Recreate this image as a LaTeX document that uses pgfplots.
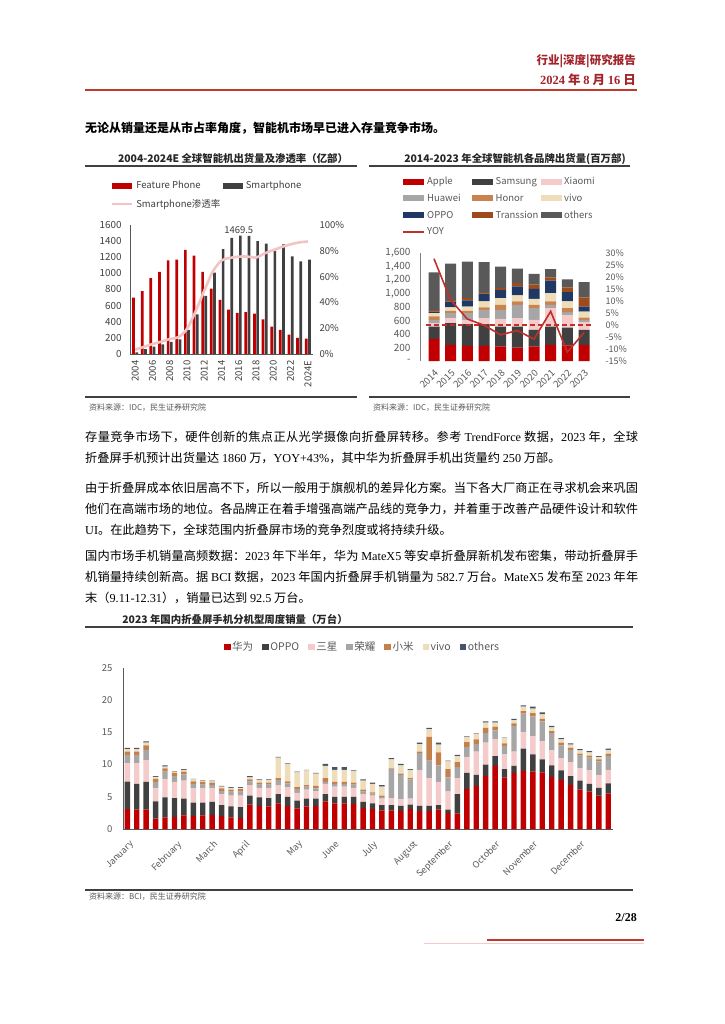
\documentclass[border=0pt]{standalone}
\usepackage{fontspec}
\setmainfont{Noto Sans CJK SC}
\newfontfamily\latfont{Liberation Serif}
\usepackage{pgfplots}
\usepackage{pgfplotstable}
\pgfplotsset{compat=1.18}

\XeTeXlinebreaklocale "zh"
\XeTeXlinebreakskip=0pt plus 1.5pt minus 0.3pt

\newcommand\fsz[1]{\fontsize{#1}{#1}\selectfont}
\newcommand\lt[1]{{\latfont #1}}

\definecolor{hdr}{HTML}{A3232B}
\definecolor{hrule}{HTML}{C0392B}
\definecolor{ttl}{HTML}{262626}
\definecolor{crule}{HTML}{404040}
\definecolor{src}{HTML}{595959}
\definecolor{tick1}{HTML}{404040}
\definecolor{tick2}{HTML}{595959}
\definecolor{axis1}{HTML}{595959}
\definecolor{axis2}{HTML}{808080}
\definecolor{cRed}{HTML}{C00000}
\definecolor{cDark}{HTML}{404040}
\definecolor{cPen}{HTML}{F2C4C4}
\definecolor{cPink}{HTML}{F4CACA}
\definecolor{cGray}{HTML}{A6A6A6}
\definecolor{cHonor}{HTML}{C8834F}
\definecolor{cVivo}{HTML}{EEDDB8}
\definecolor{cOppo}{HTML}{203864}
\definecolor{cTrans}{HTML}{9E4B1C}
\definecolor{cOth}{HTML}{595959}
\definecolor{cOth3}{HTML}{44546A}
\definecolor{cXm}{HTML}{C5804A}
\definecolor{cYoy}{HTML}{C0302A}

\pgfplotsset{
  pg/.style={scale only axis, anchor=south west,
    /pgf/number format/assume math mode=true,
    /pgf/number format/1000 sep={},
    major tick length=0pt, clip=false},
}

% 2004-2024E shipments (million units) and smartphone share (%)
\pgfplotstableread{
year fp sp pen
2004 700 20 3.4
2005 780 60 5.5
2006 940 90 7.7
2007 1020 120 9.5
2008 1160 150 11.6
2009 1170 180 13.0
2010 1290 300 19.5
2011 1220 490 33.0
2012 1020 720 49.0
2013 810 1010 64.0
2014 670 1300 72.5
2015 550 1440 74.5
2016 510 1469.5 75.5
2017 520 1465 75.5
2018 500 1400 74.8
2019 430 1370 78.0
2020 340 1280 80.5
2021 300 1360 83.0
2022 240 1210 85.0
2023 200 1150 86.5
2024 190 1170 87.2
}\tabA

% brands, cumulative tops (million units), yoy in %
\pgfplotstableread{
year a s x h ho v o t ot yoy
2014 327 510 560 610 660 708 733 758 1313 27.6
2015 238 560 634 708 743 793 880 905 1442 10.4
2016 223 545 609 708 743 807 900 930 1473 2.5
2017 225 545 634 758 793 882 1000 1020 1465 -0.1
2018 215 510 624 758 832 931 1050 1080 1400 -4.1
2019 200 510 634 832 882 971 1105 1154 1370 -2.3
2020 215 460 609 783 832 921 1070 1130 1290 -5.9
2021 240 510 783 832 882 1006 1189 1238 1360 5.7
2022 230 495 684 723 783 882 1020 1090 1210 -11.3
2023 240 460 575 609 644 733 807 941 1170 -3.2
}\tabB

% weekly foldable sales 2023, cumulative tops (10k units)
\pgfplotstableread{
w r d p g o b t
0 3.1 7.35 10.2 11.5 12.0 12.4 12.6
1 3.0 7.0 10.2 11.5 12.0 12.4 12.6
2 3.0 7.3 10.7 12.3 13.0 13.4 13.6
3 1.6 4.3 6.4 7.3 7.8 8.1 8.2
4 1.8 4.9 7.8 8.9 9.4 9.7 9.9
5 1.9 4.8 7.3 8.2 8.7 8.9 9.0
6 2.1 4.7 7.5 8.5 8.9 9.2 9.3
7 2.0 4.1 6.3 7.0 7.4 7.7 7.8
8 2.1 4.1 6.3 6.9 7.3 7.5 7.6
9 2.2 4.2 6.3 6.8 7.2 7.4 7.5
10 2.0 3.7 5.4 5.9 6.3 6.6 6.7
11 1.8 3.5 5.2 5.8 6.1 6.4 6.5
12 1.7 3.4 5.2 5.8 6.2 6.4 6.5
13 3.8 5.2 6.8 7.4 7.7 8.0 8.2
14 3.6 4.9 6.4 6.9 7.2 7.6 7.7
15 3.5 4.8 6.4 6.9 7.2 7.6 7.7
16 4.0 5.4 6.8 7.6 7.9 11.1 11.2
17 3.6 5.0 6.5 7.1 7.4 10.1 10.2
18 3.2 4.4 5.6 6.2 6.5 8.8 8.9
19 3.5 4.7 6.1 6.6 6.8 9.1 9.2
20 3.6 4.7 5.9 6.3 6.7 8.6 8.7
21 4.3 5.4 7.0 7.3 7.9 9.8 10.1
22 4.0 5.0 6.6 7.0 7.3 9.2 9.6
23 4.0 5.0 6.6 7.0 7.3 9.2 9.6
24 3.9 5.0 6.4 6.9 7.2 9.0 9.1
25 3.3 4.2 5.4 5.8 6.1 7.5 7.7
26 3.1 4.0 5.2 5.5 5.7 7.0 7.2
27 2.9 3.7 4.7 5.0 5.2 6.6 6.8
28 2.9 3.7 4.8 9.3 9.4 10.8 11.0
29 2.8 3.6 4.6 8.4 8.6 9.9 10.1
30 3.1 3.8 4.7 7.7 7.9 9.2 9.3
31 2.8 3.6 9.1 11.8 12.0 13.2 13.4
32 2.8 3.6 7.9 10.6 14.3 15.5 15.7
33 3.0 3.7 7.3 9.9 11.9 13.1 13.4
34 2.5 3.0 5.9 8.0 9.3 10.5 10.6
35 2.4 5.4 7.9 9.6 10.4 11.3 11.5
36 6.2 8.7 11.2 12.7 13.5 14.3 14.4
37 6.7 8.4 12.0 13.2 13.9 14.8 14.9
38 8.2 10.0 13.4 14.9 15.7 16.5 16.7
39 9.8 11.3 13.9 15.3 15.9 16.5 16.7
40 8.0 9.3 11.6 12.9 13.3 14.1 14.2
41 8.7 9.8 12.0 16.0 16.4 16.9 17.1
42 9.0 12.5 15.1 17.9 18.3 19.0 19.2
43 8.9 11.6 14.4 17.5 18.0 18.7 19.0
44 8.8 10.8 13.6 16.7 17.1 17.8 18.1
45 8.1 9.9 12.2 14.9 15.2 15.8 16.0
46 7.6 9.1 11.0 13.0 13.4 13.9 14.1
47 6.8 8.2 10.4 12.3 12.6 13.1 13.3
48 6.1 7.5 9.4 11.4 11.7 12.2 12.4
49 5.8 7.0 9.1 11.1 11.4 11.9 12.1
50 5.2 6.4 8.4 10.5 10.8 11.2 11.3
51 5.5 7.1 9.2 11.3 11.7 12.3 12.5
}\tabC

\begin{document}
\begin{tikzpicture}[x=1pt,y=1pt]
\path[use as bounding box, fill=white] (0,0) rectangle (724,-1024);

% header
\node[anchor=east, inner sep=0, text=hdr, font=\fsz{11.5}\bfseries] at (636,-61) {行业|深度|研究报告};
\node[anchor=east, inner sep=0, text=hdr, font=\fsz{12.5}\bfseries] at (636,-80) {{\latfont\bfseries 2024} 年 {\latfont\bfseries 8} 月 {\latfont\bfseries 16} 日};
\draw[hrule, line width=1.4] (85,-90) -- (637,-90);

\node[anchor=west, inner sep=0, font=\fsz{12}\bfseries] at (85,-128) {无论从销量还是从市占率角度，智能机市场早已进入存量竞争市场。};

% chart titles and rules
\node[text=ttl, font=\fsz{10.4}\bfseries, inner sep=0] at (233,-159) {2004-2024E 全球智能机出货量及渗透率（亿部）};
\node[text=ttl, font=\fsz{10.4}\bfseries, inner sep=0] at (515,-159) {2014-2023 年全球智能机各品牌出货量(百万部)};
\draw[crule, line width=1.1] (85,-166) -- (357,-166);
\draw[crule, line width=1.1] (369,-166) -- (630,-166);
\draw[crule, line width=1.1] (85,-397) -- (357,-397);
\draw[crule, line width=1.1] (369,-397) -- (630,-397);
\node[anchor=west, inner sep=0, text=src, font=\fsz{8}] at (89,-408) {资料来源：IDC，民生证券研究院};
\node[anchor=west, inner sep=0, text=src, font=\fsz{8}] at (373,-408) {资料来源：IDC，民生证券研究院};

% body text
\begin{scope}[every node/.style={anchor=base west, inner sep=0, font=\fsz{12.2}}]
\node at (85,-441.5) {\parbox[t]{553pt}{\parfillskip=0pt\relax 存量竞争市场下，硬件创新的焦点正从光学摄像向折叠屏转移。参考 \lt{TrendForce} 数据，\lt{2023} 年，全球}};
\node at (85,-462.5) {折叠屏手机预计出货量达 \lt{1860} 万，\lt{YOY+43\%}，其中华为折叠屏手机出货量约 \lt{250} 万部。};
\node at (85,-492.5) {\parbox[t]{553pt}{\parfillskip=0pt\relax 由于折叠屏成本依旧居高不下，所以一般用于旗舰机的差异化方案。当下各大厂商正在寻求机会来巩固}};
\node at (85,-513.5) {\parbox[t]{553pt}{\parfillskip=0pt\relax 他们在高端市场的地位。各品牌正在着手增强高端产品线的竞争力，并着重于改善产品硬件设计和软件}};
\node at (85,-534.5) {\lt{UI}。在此趋势下，全球范围内折叠屏市场的竞争烈度或将持续升级。};
\node at (85,-560.5) {\parbox[t]{553pt}{\parfillskip=0pt\relax 国内市场手机销量高频数据：\lt{2023} 年下半年，华为 \lt{MateX5} 等安卓折叠屏新机发布密集，带动折叠屏手}};
\node at (85,-581.5) {\parbox[t]{553pt}{\parfillskip=0pt\relax 机销量持续创新高。据 \lt{BCI} 数据，\lt{2023} 年国内折叠屏手机销量为 \lt{582.7} 万台。\lt{MateX5} 发布至 \lt{2023} 年年}};
\node at (85,-602.5) {末（\lt{9.11-12.31}），销量已达到 \lt{92.5} 万台。};
\end{scope}

\node[text=ttl, font=\fsz{10.4}\bfseries, inner sep=0] at (235,-619) {2023 年国内折叠屏手机分机型周度销量（万台）};
\draw[crule, line width=1.1] (85,-627) -- (633,-627);
\draw[crule, line width=1.1] (85,-890) -- (633,-890);
\node[anchor=west, inner sep=0, text=src, font=\fsz{8}] at (89,-897) {资料来源：BCI，民生证券研究院};

% footer
\node[anchor=east, inner sep=0, font=\latfont\bfseries\fsz{12}] at (637,-918) {2/28};
\draw[hrule, line width=1.5] (487,-940) -- (644,-940);
\draw[cPink, line width=1] (424,-943) -- (644,-943);

% ---------- chart 1 ----------
\begin{axis}[pg, at={(130pt,-354pt)}, width=183pt, height=129pt,
  xmin=2003.4, xmax=2024.6, ymin=0, ymax=1600,
  axis x line*=bottom, axis y line*=left,
  axis line style={draw=axis1, line width=0.9pt},
  ytick={0,200,...,1600},
  xtick={2004,2006,...,2024},
  xticklabels={2004,2006,2008,2010,2012,2014,2016,2018,2020,2022,2024E},
  x tick label style={yshift=-3pt, rotate=90, anchor=east, font=\fsz{9.5}, text=tick1},
  y tick label style={font=\fsz{9.8}, text=tick1, xshift=-5pt},
  ybar, bar width=2.7pt,
  legend columns=2, legend cell align=left,
  legend image code/.code={\fill[#1] (0pt,-3pt) rectangle (20pt,3pt);},
  legend style={at={(-0.104,1.349)}, anchor=north west, draw=none, fill=none,
    inner sep=0pt, row sep=7pt, font=\fsz{9.5},
    nodes={inner sep=1pt, text=tick1},
    /tikz/every odd column/.style={column sep=1.5pt},
    /tikz/every even column/.style={column sep=2pt}},
]
\addplot[fill=cRed, draw=none, bar shift=-1.6pt] table[x=year,y=fp]{\tabA};
\addlegendentry{Feature Phone}
\addplot[fill=cDark, draw=none, bar shift=1.6pt] table[x=year,y=sp]{\tabA};
\addlegendentry{Smartphone}
\addlegendimage{legend image code/.code={\draw[cPen, line width=2.6pt] (0pt,0pt) -- (20pt,0pt);}}
\addlegendentry{Smartphone渗透率}
\node[above, font=\fsz{9.5}, text=tick1, inner sep=2pt] at (axis cs:2016,1469.5) {1469.5};
\end{axis}
\begin{axis}[pg, at={(130pt,-354pt)}, width=183pt, height=129pt,
  xmin=2003.4, xmax=2024.6, ymin=0, ymax=100,
  axis x line=none, axis y line*=right, y axis line style={draw=none},
  ytick={0,20,...,100}, yticklabel={\pgfmathprintnumber{\tick}\%},
  y tick label style={font=\fsz{9.5}, text=tick1, xshift=3pt}]
\addplot[cPen, line width=2.6pt, smooth, no markers] table[x=year,y=pen]{\tabA};
\end{axis}

% ---------- chart 2 ----------
\begin{axis}[pg, at={(420pt,-361pt)}, width=180pt, height=108pt,
  xmin=2013.16, xmax=2023.96, ymin=0, ymax=1600,
  axis x line*=bottom, axis y line*=left,
  x axis line style={draw=none}, y axis line style={draw=axis2, line width=0.8pt},
  ytick={0,200,...,1600},
  yticklabels={-,200,400,600,800,{1,000},{1,200},{1,400},{1,600}},
  xtick={2014,2015,...,2023},
  x tick label style={yshift=-3pt, rotate=45, anchor=north east, font=\fsz{9.5}, text=tick2},
  y tick label style={font=\fsz{10}, text=tick2, xshift=-6pt},
  ybar stacked, bar width=11pt,
  legend columns=3, legend cell align=left,
  legend image code/.code={\fill[#1] (0pt,-3pt) rectangle (21pt,3pt);},
  legend style={at={(-0.1,1.713)}, anchor=north west, draw=none, fill=none,
    inner sep=0pt, row sep=5.8pt, font=\fsz{9.5},
    nodes={inner sep=1pt, text=tick2, text width=44pt},
    /tikz/every odd column/.style={column sep=1.5pt},
    /tikz/every even column/.style={column sep=0pt}},
]
\addplot[fill=cRed, draw=none] table[x=year,y=a]{\tabB};
\addlegendentry{Apple}
\addplot[fill=cDark, draw=none] table[x=year,y expr=\thisrow{s}-\thisrow{a}]{\tabB};
\addlegendentry{Samsung}
\addplot[fill=cPink, draw=none] table[x=year,y expr=\thisrow{x}-\thisrow{s}]{\tabB};
\addlegendentry{Xiaomi}
\addplot[fill=cGray, draw=none] table[x=year,y expr=\thisrow{h}-\thisrow{x}]{\tabB};
\addlegendentry{Huawei}
\addplot[fill=cHonor, draw=none] table[x=year,y expr=\thisrow{ho}-\thisrow{h}]{\tabB};
\addlegendentry{Honor}
\addplot[fill=cVivo, draw=none] table[x=year,y expr=\thisrow{v}-\thisrow{ho}]{\tabB};
\addlegendentry{vivo}
\addplot[fill=cOppo, draw=none] table[x=year,y expr=\thisrow{o}-\thisrow{v}]{\tabB};
\addlegendentry{OPPO}
\addplot[fill=cTrans, draw=none] table[x=year,y expr=\thisrow{t}-\thisrow{o}]{\tabB};
\addlegendentry{Transsion}
\addplot[fill=cOth, draw=none] table[x=year,y expr=\thisrow{ot}-\thisrow{t}]{\tabB};
\addlegendentry{others}
\addlegendimage{legend image code/.code={\draw[cYoy, line width=1.5pt] (0pt,0pt) -- (21pt,0pt);}}
\addlegendentry{YOY}
\end{axis}
\begin{axis}[pg, at={(420pt,-361pt)}, width=180pt, height=108pt,
  xmin=2013.16, xmax=2023.96, ymin=-15, ymax=30,
  axis x line=none, axis y line*=right, y axis line style={draw=none},
  ytick={-15,-10,...,30},
  yticklabels={-15\%,-10\%,-5\%,0\%,5\%,10\%,15\%,20\%,25\%,30\%},
  y tick label style={font=\fsz{9}, text=tick2, xshift=2pt}]
\addplot[cYoy, line width=1.4pt, dash pattern=on 5pt off 3pt] coordinates {(2013.52,0) (2023.54,0)};
\addplot[cYoy, line width=1.6pt, no markers] table[x=year,y=yoy]{\tabB};
\end{axis}

% ---------- chart 3 ----------
\begin{axis}[pg, at={(123pt,-829pt)}, width=490pt, height=161pt,
  xmin=-0.456, xmax=51.5, ymin=0, ymax=25,
  axis x line*=bottom, axis y line*=left,
  axis line style={draw=axis1, line width=0.9pt},
  ytick={0,5,...,25},
  xtick={0.18,5.27,9.09,12.48,18.1,22,26,30.3,34,39,43,48},
  xticklabels={January,February,March,April,May,June,July,August,September,October,November,December},
  x tick label style={yshift=-6pt, rotate=45, anchor=north east, font=\fsz{9}, text=tick2},
  y tick label style={font=\fsz{9.5}, text=tick2, xshift=-7pt},
  ybar stacked, bar width=5.4pt,
  legend columns=-1,
  legend image code/.code={\fill[#1] (0pt,-3.3pt) rectangle (6.6pt,3.3pt);},
  legend style={at={(0.488,1.130)}, anchor=center, draw=none, fill=none,
    inner sep=0pt, font=\fsz{10.5},
    nodes={inner sep=1pt, text=tick2},
    /tikz/every odd column/.style={column sep=0.5pt},
    /tikz/every even column/.style={column sep=8pt}},
]
\addplot[fill=cRed, draw=none] table[x=w,y=r]{\tabC};
\addlegendentry{华为}
\addplot[fill=cDark, draw=none] table[x=w,y expr=\thisrow{d}-\thisrow{r}]{\tabC};
\addlegendentry{OPPO}
\addplot[fill=cPink, draw=none] table[x=w,y expr=\thisrow{p}-\thisrow{d}]{\tabC};
\addlegendentry{三星}
\addplot[fill=cGray, draw=none] table[x=w,y expr=\thisrow{g}-\thisrow{p}]{\tabC};
\addlegendentry{荣耀}
\addplot[fill=cXm, draw=none] table[x=w,y expr=\thisrow{o}-\thisrow{g}]{\tabC};
\addlegendentry{小米}
\addplot[fill=cVivo, draw=none] table[x=w,y expr=\thisrow{b}-\thisrow{o}]{\tabC};
\addlegendentry{vivo}
\addplot[fill=cOth3, draw=none] table[x=w,y expr=\thisrow{t}-\thisrow{b}]{\tabC};
\addlegendentry{others}
\end{axis}
\end{tikzpicture}
\end{document}
